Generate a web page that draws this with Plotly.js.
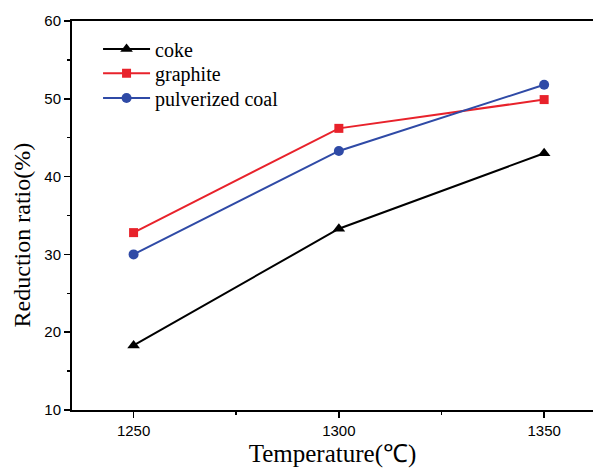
<!DOCTYPE html>
<html><head><meta charset="utf-8">
<script src="https://cdn.plot.ly/plotly-3.0.1.min.js"></script>
<style>html,body{margin:0;padding:0;background:#fff}#c{width:593px;height:468px}</style>
</head><body><div id="c"></div>
<script>
const temperatures = [1250, 1300, 1350];
const coke = [18.3, 33.3, 43.0];
const graphite = [32.8, 46.2, 49.9];
const pulverizedCoal = [30.0, 43.3, 51.8];
const seriesNames = ['coke', 'graphite', 'pulverized coal'];

const serif = 'Liberation Serif, Times New Roman, serif';
const traces = [
  {x: temperatures, y: coke, name: seriesNames[0], mode: 'lines+markers', legend: 'legend',
   line: {color: '#000000', width: 2}, marker: {symbol: 'triangle-up', size: 11, color: '#000000'}},
  {x: temperatures, y: graphite, name: seriesNames[1], mode: 'lines+markers', legend: 'legend2',
   line: {color: '#e8222b', width: 2}, marker: {symbol: 'square', size: 9, color: '#e8222b'}},
  {x: temperatures, y: pulverizedCoal, name: seriesNames[2], mode: 'lines+markers', legend: 'legend3',
   line: {color: '#2f4aa6', width: 2}, marker: {symbol: 'circle', size: 10, color: '#2f4aa6'}}
];

function leg(y) {
  return {x: 0.05, y: y, xanchor: 'left', yanchor: 'middle', bgcolor: 'rgba(0,0,0,0)',
    font: {family: serif, size: 20, color: '#000'}, itemwidth: 47, borderwidth: 0};
}

const layout = {
  width: 593, height: 468,
  margin: {l: 72, r: 0, t: 21, b: 58},
  paper_bgcolor: '#fff', plot_bgcolor: '#fff',
  showlegend: true,
  legend: leg(0.928), legend2: leg(0.866), legend3: leg(0.802),
  xaxis: {
    range: [1235, 1361.9], tickvals: temperatures, ticktext: temperatures.map(String),
    showgrid: false, zeroline: false, showline: true, linecolor: '#000', linewidth: 2,
    mirror: true, ticks: 'outside', ticklen: 6, tickwidth: 1.5, tickcolor: '#000',
    minor: {tickvals: [1275, 1325], ticks: 'outside', ticklen: 3, tickwidth: 1.5, tickcolor: '#000'},
    tickfont: {family: 'Liberation Sans, Arial, sans-serif', size: 15, color: '#000'},
    title: {text: 'Temperature(℃)', font: {family: serif, size: 25, color: '#000'}, standoff: 10}
  },
  yaxis: {
    range: [10, 60], tickvals: [10, 20, 30, 40, 50, 60],
    showgrid: false, zeroline: false, showline: true, linecolor: '#000', linewidth: 2,
    mirror: false, ticks: 'outside', ticklen: 6, tickwidth: 1.5, tickcolor: '#000',
    minor: {dtick: 5, ticks: 'outside', ticklen: 3, tickwidth: 1.5, tickcolor: '#000'},
    tickfont: {family: 'Liberation Sans, Arial, sans-serif', size: 15, color: '#000'}
  },
  annotations: [{
    text: 'Reduction ratio(%)', textangle: -90, xref: 'paper', yref: 'paper',
    x: -0.097, y: 0.45, xanchor: 'center', yanchor: 'middle', showarrow: false,
    font: {family: serif, size: 24, color: '#000'}
  }]
};
Plotly.newPlot('c', traces, layout, {displayModeBar: false, staticPlot: true});
</script></body></html>
